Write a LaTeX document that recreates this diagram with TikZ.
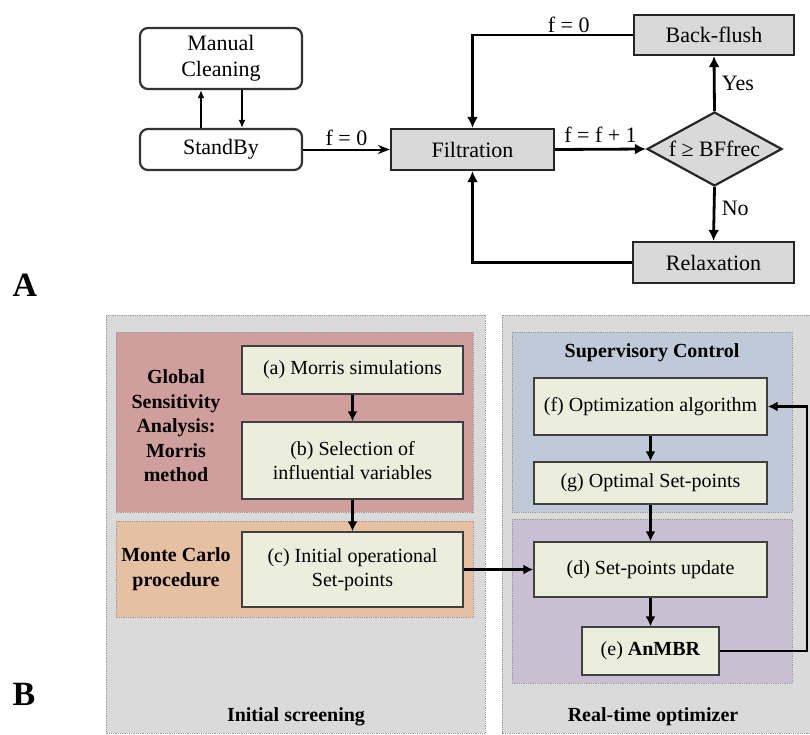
\documentclass[tikz,border=0pt]{standalone}
\usepackage{fontspec}
\setmainfont{Liberation Serif}
\usetikzlibrary{shapes.geometric,arrows.meta}
\definecolor{agray}{HTML}{D9D9D9}
\definecolor{bgray}{HTML}{DADADA}
\definecolor{bred}{HTML}{D09F9D}
\definecolor{borange}{HTML}{E6C0A3}
\definecolor{bblue}{HTML}{BFC9D8}
\definecolor{bpurple}{HTML}{C8C0D2}
\definecolor{bgreen}{HTML}{EBEEDC}
\definecolor{dotc}{HTML}{9A9A9A}
\tikzset{
  fa/.style={font=\fontsize{22}{26}\selectfont},
  fb/.style={font=\fontsize{20}{24.5}\selectfont},
  fbb/.style={font=\fontsize{20}{24.5}\selectfont\bfseries},
  roundbox/.style={draw=black!80, line width=2.2pt, rounded corners=8pt, fill=white, fa, inner sep=0pt, align=center},
  graybox/.style={draw=black!85, line width=2.2pt, fill=agray, fa, inner sep=0pt, align=center},
  greenbox/.style={draw=black!75, line width=1.3pt, fill=bgreen, fb, inner sep=0pt, align=center},
  region/.style={draw=dotc, densely dotted, line width=0.8pt},
  thickarrow/.style={line width=2.8pt, -{Latex[length=11pt,width=11pt]}},
  thinarrowA/.style={line width=1.8pt, -{Latex[length=8pt,width=7pt]}},
  arrowB/.style={line width=2.2pt, -{Latex[length=10pt,width=10pt]}},
}
\begin{document}
\begin{tikzpicture}[x=1pt,y=-1pt]
\useasboundingbox (0,0) rectangle (810,734);

% ---------- Part A ----------
\node[font=\fontsize{34}{40}\selectfont\bfseries] (labA) at (25,285) {A};
\node[roundbox, minimum width=162pt, minimum height=61pt] (manual) at (221,58.5) {Manual\\Cleaning};
\node[roundbox, minimum width=162pt, minimum height=41pt] (standby) at (221,149.5) {StandBy};
\node[graybox, minimum width=163pt, minimum height=41pt] (filt) at (472.5,149.5) {Filtration};
\node[graybox, minimum width=160pt, minimum height=40pt] (back) at (714,35) {Back-flush};
\node[graybox, shape=diamond, minimum width=135pt, minimum height=74pt, aspect=1.82] (dec) at (714.5,149) {f ≥ BFfrec};
\node[graybox, minimum width=161pt, minimum height=41pt] (relax) at (713.5,262.5) {Relaxation};

\draw[thinarrowA] ([xshift=-20pt]standby.north) -- ([xshift=-20pt]manual.south);
\draw[thinarrowA] ([xshift=21pt]manual.south) -- ([xshift=21pt]standby.north);
\draw[line width=2pt, -{Stealth[length=12pt,width=9pt]}] (standby.east) -- node[fa, above, yshift=-1pt] {f = 0} (filt.west);
\draw[thickarrow] (back.west) -| node[fa, pos=0.2, above, yshift=-2pt] {f = 0} (filt.north);
\draw[thickarrow] (filt.east) -- node[fa, above, yshift=2pt] {f = f + 1} (dec.west);
\draw[thickarrow] (dec.north) -- node[fa, right, xshift=3pt] {Yes} (back.south);
\draw[thickarrow] (dec.south) -- node[fa, right, xshift=3pt, pos=0.4] {No} (relax.north);
\draw[thickarrow] (relax.west) -| (filt.south);

% ---------- Part B ----------
\node[font=\fontsize{34}{40}\selectfont\bfseries] (labB) at (24,694) {B};
\fill[bgray] (106,315) rectangle (485,733);
\draw[region] (106,315) rectangle (485,733);
\fill[bgray] (502,315) rectangle (810,733);
\draw[region] (810,315) -- (502,315) -- (502,733) -- (810,733);
\draw[region, fill=bred] (116,332) rectangle (473,512);
\draw[region, fill=borange] (116,521) rectangle (473,617);
\draw[region, fill=bblue] (512,332) rectangle (792,512);
\draw[region, fill=bpurple] (512,519) rectangle (792,683);

\node[fbb, align=center] (gsa) at (176,426) {Global\\Sensitivity\\Analysis:\\Morris\\method};
\node[fbb, align=center] (mc) at (176,569) {Monte Carlo\\procedure};
\node[fbb] (sup) at (652,353) {Supervisory Control};
\node[fbb] (ini) at (296,717) {Initial screening};
\node[fbb] (rto) at (653,717) {Real-time optimizer};

\node[greenbox, minimum width=221pt, minimum height=48pt] (a) at (352.5,370) {(a) Morris simulations};
\node[greenbox, minimum width=221pt, minimum height=77pt] (b) at (352.5,460.5) {(b) Selection of\\influential variables};
\node[greenbox, minimum width=221pt, minimum height=75pt] (c) at (352.5,569.5) {(c) Initial operational\\Set-points};
\node[greenbox, minimum width=233pt, minimum height=57pt] (f) at (650.5,406.5) {(f) Optimization algorithm};
\node[greenbox, minimum width=233pt, minimum height=42pt] (g) at (650.5,483) {(g) Optimal Set-points};
\node[greenbox, minimum width=233pt, minimum height=55pt] (d) at (650.5,569.5) {(d) Set-points update};
\node[greenbox, minimum width=137pt, minimum height=48pt] (e) at (650.5,651) {(e) \textbf{AnMBR}};

\draw[arrowB] (a.south) -- (b.north);
\draw[arrowB] (b.south) -- (c.north);
\draw[arrowB] (f.south) -- (g.north);
\draw[arrowB] (g.south) -- (d.north);
\draw[arrowB] (d.south) -- (e.north);
\draw[arrowB] (c.east) -- (d.west);
\coordinate (fb) at (807,651);
\draw[arrowB] (e.east) -- (fb) |- (f.east);
\end{tikzpicture}
\end{document}
